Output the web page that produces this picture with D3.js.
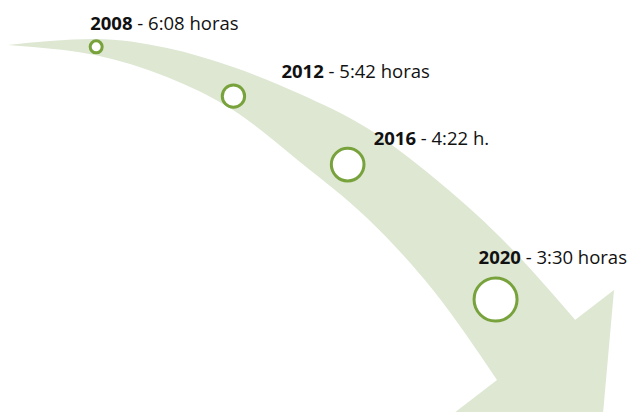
<!DOCTYPE html>
<html lang="es">
  <head>
    <meta charset="UTF-8" />
    <title>Tiempo por año</title>
    <script src="https://cdn.jsdelivr.net/npm/d3@7"></script>
    <style>
      html,
      body {
        margin: 0;
        padding: 0;
        overflow: hidden;
        background: #fff;
      }
      svg {
        display: block;
      }
    </style>
  </head>

  <body>
    <div id="chart"></div>
    <script>
      // datos
      const years = [2008, 2012, 2016, 2020];
      const times = ["6:08 horas", "5:42 horas", "4:22 h.", "3:30 horas"];

      // posición de cada año a lo largo de la flecha (0 = cola, 1 = final del cuerpo)
      const along = [0.138, 0.37, 0.58, 0.894];
      // posición a lo ancho (0 = borde superior, 1 = borde inferior)
      const across = [0.5, 0.7, 0.6, 0.51];
      // desplazamiento de la etiqueta respecto al círculo
      const labelDx = [-6, 48, 26, -17];
      const labelDy = [-16.5, -17.7, -19.5, -35.5];

      const width = 627;
      const height = 412;
      const bandColor = "#dde7d2";
      const ringColor = "#78a23c";

      // bordes del cuerpo de la flecha (el final entra un poco en la punta)
      const topEdge = [
        [8, 45], [50, 41], [95, 39], [167, 48], [233, 67], [300, 94],
        [367, 128], [433, 177], [500, 237], [577, 322],
      ];
      const bottomEdge = [
        [8, 45], [33, 47], [95, 55], [167, 77], [233, 110], [300, 162],
        [367, 218], [433, 290], [499, 383],
      ];
      // punta: esquina, punta (fuera de la imagen), esquina trasera (fuera)
      const head = [[614, 290], [598, 470], [380, 470]];

      const svg = d3
        .select("#chart")
        .append("svg")
        .attr("width", width)
        .attr("height", height);

      const line = d3.line().curve(d3.curveMonotoneX);

      // cuerpo
      svg
        .append("path")
        .attr("d", line(topEdge) + "L" + line(bottomEdge.slice().reverse()).slice(1) + "Z")
        .attr("fill", bandColor);

      // punta
      svg
        .append("path")
        .attr("d", d3.line()(head) + "Z")
        .attr("fill", bandColor);

      // guías invisibles para colocar los círculos
      const topGuide = svg.append("path").attr("d", line(topEdge)).attr("fill", "none").node();
      const bottomGuide = svg.append("path").attr("d", line(bottomEdge)).attr("fill", "none").node();
      const topLen = topGuide.getTotalLength();
      const bottomLen = bottomGuide.getTotalLength();

      const pos = d3.scaleLinear().domain(years).range(along);
      const radius = d3.scaleLinear().domain([2008, 2020]).range([6, 21.5]);

      const points = years.map((y, i) => {
        const f = pos(y);
        const a = topGuide.getPointAtLength(f * topLen);
        const b = bottomGuide.getPointAtLength(f * bottomLen);
        const p = d3.interpolate([a.x, a.y], [b.x, b.y])(across[i]);
        return { year: y, time: times[i], x: p[0], y: p[1], i };
      });

      svg
        .selectAll("circle")
        .data(points)
        .enter()
        .append("circle")
        .attr("cx", (d) => d.x)
        .attr("cy", (d) => d.y)
        .attr("r", (d) => radius(d.year))
        .attr("fill", "#fff")
        .attr("stroke", ringColor)
        .attr("stroke-width", 3);

      const labels = svg
        .selectAll("text")
        .data(points)
        .enter()
        .append("text")
        .attr("x", (d) => d.x + labelDx[d.i])
        .attr("y", (d) => d.y + labelDy[d.i])
        .attr("font-family", "'Open Sans', sans-serif")
        .attr("font-size", 18.5)
        .attr("fill", "#111");

      labels
        .append("tspan")
        .attr("font-weight", "bold")
        .text((d) => d.year);
      labels.append("tspan").text((d) => " - " + d.time);
    </script>
  </body>
</html>
